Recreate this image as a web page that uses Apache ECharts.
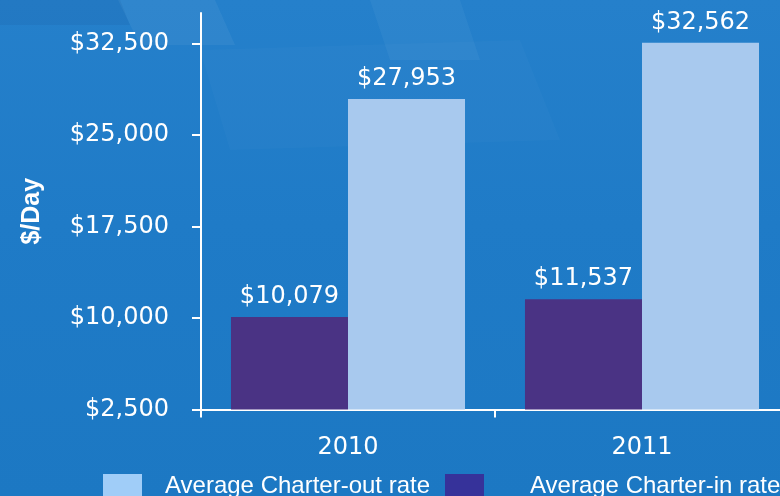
<!DOCTYPE html>
<html>
<head>
<meta charset="utf-8">
<script src="https://cdn.jsdelivr.net/npm/echarts@6/dist/echarts.min.js"></script>
<style>
html,body{margin:0;padding:0;background:#1d79c4;}
#chart{width:780px;height:496px;}
</style>
</head>
<body>
<div id="chart"></div>
<script>
var categories = ['2010', '2011'];
var charterIn = [10079, 11537];
var charterOut = [27953, 32562];
var yTicks = [2500, 10000, 17500, 25000, 32500];
var seriesNames = ['Average Charter-in rate', 'Average Charter-out rate'];

var FONT = 'DejaVu Sans';
function money(v){ return '$' + Number(v).toLocaleString('en-US'); }

var chart = echarts.init(document.getElementById('chart'), null, {renderer:'canvas'});
chart.setOption({
  animation: false,
  backgroundColor: {
    type: 'linear', x: 0, y: 0, x2: 0, y2: 1,
    colorStops: [
      {offset: 0, color: '#2580cb'},
      {offset: 0.45, color: '#1f7bc7'},
      {offset: 1, color: '#1c78c3'}
    ]
  },
  graphic: [
    {type:'polygon', silent:true, z:-10, shape:{points:[[118,0],[215,0],[235,45],[140,45]]}, style:{fill:'rgba(255,255,255,0.05)'}},
    {type:'polygon', silent:true, z:-10, shape:{points:[[370,0],[460,0],[480,60],[390,60]]}, style:{fill:'rgba(255,255,255,0.04)'}},
    {type:'polygon', silent:true, z:-10, shape:{points:[[0,0],[120,0],[130,25],[0,25]]}, style:{fill:'rgba(0,0,60,0.05)'}},
    {type:'polygon', silent:true, z:-10, shape:{points:[[200,50],[520,40],[560,140],[230,150]]}, style:{fill:'rgba(255,255,255,0.02)'}}
  ],
  grid: {left: 201, width: 588, top: 13, bottom: 86.5, containLabel: false, outerBoundsMode: 'none'},
  legend: [
    {
      data: [{name: seriesNames[1], itemStyle: {color: '#a0cdf8'}}],
      left: 103, top: 474, padding: 0,
      itemWidth: 39, itemHeight: 24,
      icon: 'rect',
      textStyle: {color: '#ffffff', fontFamily: 'Liberation Sans', fontSize: 24, padding: [0,0,0,18]}
    },
    {
      data: [{name: seriesNames[0], itemStyle: {color: '#36329a'}}],
      left: 445, top: 474, padding: 0,
      itemWidth: 39, itemHeight: 24,
      icon: 'rect',
      textStyle: {color: '#ffffff', fontFamily: 'Liberation Sans', fontSize: 24, padding: [0,0,0,41]}
    }
  ],
  xAxis: {
    type: 'category',
    data: categories,
    axisLine: {show: true, lineStyle: {color: '#ffffff', width: 2}},
    axisTick: {show: true, length: 8, lineStyle: {color: '#ffffff', width: 2}},
    axisLabel: {color: '#ffffff', fontFamily: FONT, fontSize: 24, margin: 26}
  },
  yAxis: {
    type: 'value',
    min: 2500, max: 35000,
    name: '$/Day',
    nameLocation: 'middle',
    nameGap: 156,
    nameTextStyle: {color: '#ffffff', fontFamily: 'Liberation Sans', fontWeight: 'bold', fontSize: 25},
    axisLine: {show: true, lineStyle: {color: '#ffffff', width: 2}},
    axisTick: {show: true, length: 9, customValues: yTicks, lineStyle: {color: '#ffffff', width: 2}},
    axisLabel: {color: '#ffffff', fontFamily: FONT, fontSize: 24, margin: 32, customValues: yTicks, formatter: function(v){ return money(v); }},
    splitLine: {show: false}
  },
  series: [
    {
      name: seriesNames[0], type: 'bar', data: charterIn,
      barGap: '0%', barCategoryGap: '20.4%',
      itemStyle: {color: '#4a3384'},
      label: {show: true, position: 'top', distance: 8, color: '#ffffff', fontFamily: FONT, fontSize: 24, formatter: function(p){ return money(p.value); }}
    },
    {
      name: seriesNames[1], type: 'bar', data: charterOut,
      barGap: '0%', barCategoryGap: '20.4%',
      itemStyle: {color: '#a8c9ee'},
      label: {show: true, position: 'top', distance: 8, color: '#ffffff', fontFamily: FONT, fontSize: 24, formatter: function(p){ return money(p.value); }}
    }
  ]
});
</script>
</body>
</html>
